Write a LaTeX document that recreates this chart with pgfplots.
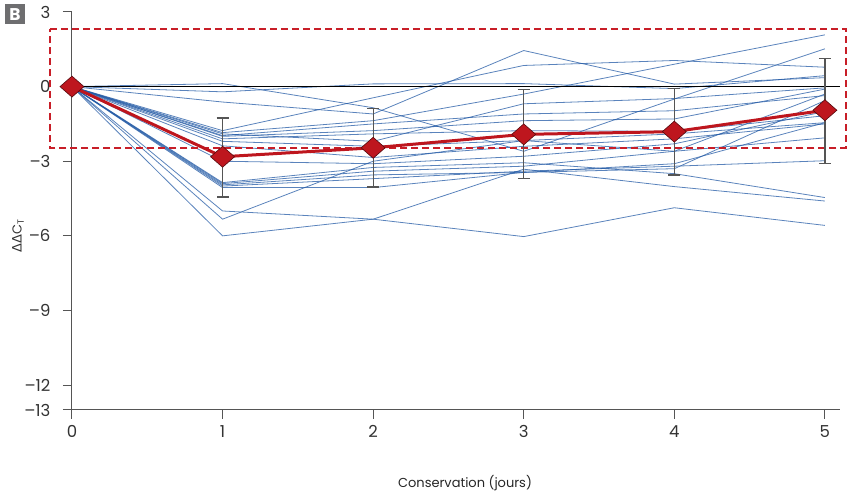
\documentclass[border=0pt]{standalone}
\usepackage{fontspec}
\setmainfont{Poppins}
\newfontfamily\gfont{DejaVu Sans}
\usepackage{pgfplots}
\usepackage{pgfplotstable}
\pgfplotsset{compat=1.18}
\definecolor{lineblue}{RGB}{35,90,165}
\definecolor{meanred}{RGB}{190,22,30}
\definecolor{boxred}{RGB}{200,30,40}
\definecolor{axgray}{RGB}{85,85,85}
\definecolor{bgray}{RGB}{110,110,112}

\pgfplotstableread{
d s1 s2 s3 s4 s5 s6 s7 s8 s9 s10 s11 s12 s13 s14 s15 s16 s17 s18 s19 s20
0 0 0 0 0 0 0 0 0 0 0 0 0 0 0 0 0 0 0 0 0
1 0.12 -0.21 -0.62 -1.77 -1.85 -1.90 -1.97 -2.00 -2.10 -2.20 -2.38 -3.00 -3.86 -3.90 -3.95 -4.00 -4.06 -5.00 -5.33 -6.00
2 -0.85 0.11 -1.10 -0.45 -1.37 -2.20 -1.50 -1.77 -1.90 -2.40 -2.85 -3.10 -3.25 -3.40 -3.55 -3.70 -4.06 -5.33 -3.00 -5.33
3 -2.60 0.12 1.45 0.85 -0.30 -0.69 -1.10 -1.37 -1.77 -2.17 -2.40 -2.80 -3.06 -3.20 -3.45 -3.40 -3.45 -6.03 -2.17 -3.32
4 -0.50 -0.08 0.10 1.05 0.90 -0.48 -0.97 -1.30 -1.80 -1.90 -2.10 -2.30 -3.50 -2.60 -3.10 -3.20 -3.30 -4.87 -2.60 -4.02
5 1.52 0.44 0.36 0.78 2.08 -0.05 -0.36 -0.10 -1.17 -1.45 -1.50 -1.00 -4.46 -2.06 -1.45 -2.98 -0.56 -5.58 -0.30 -4.60
}\lines

\begin{document}
\begin{tikzpicture}
\begin{axis}[
  scale only axis, width=768pt, height=398pt,
  xmin=0, xmax=5.1, ymin=-13, ymax=3,
  axis lines=left,
  axis line style={-, draw=axgray, line width=1pt},
  xtick={0,1,2,3,4,5}, xticklabels={0,1,2,3,4,5},
  ytick={-13,-12,-9,-6,-3,0,3}, yticklabels={--13,--12,--9,--6,--3,0,3},
  tick align=outside, major tick length=9pt,
  tick style={draw=axgray, line width=1pt},
  tick label style={font=\fontsize{16.5}{16.5}\selectfont, text=black!80},
  yticklabel style={xshift=-9pt},
  xticklabel style={yshift=-3pt},
  clip=false,
]
\coordinate (bbA) at (axis cs:-0.478,3.482);
\coordinate (bbB) at (axis cs:5.160,-16.377);

\pgfplotsinvokeforeach{1,...,20}{
  \addplot[lineblue, line width=0.8pt, opacity=0.75, mark=none, forget plot] table[x=d, y=s#1] {\lines};
}

\addplot[black, line width=0.8pt, mark=none, forget plot] coordinates {(0,0) (5.1,0)};

\addplot[boxred, line width=1.8pt, dash pattern=on 7pt off 4pt, mark=none, forget plot]
  coordinates {(-0.146,2.3) (5.14,2.3) (5.14,-2.46) (-0.146,-2.46) (-0.146,2.3)};

\addplot[draw=none, mark=none, forget plot,
  error bars/.cd, y dir=both, y explicit,
  error bar style={draw=axgray, line width=1.2pt},
  error mark options={draw=axgray, line width=1.2pt, rotate=90, mark size=6pt}]
  coordinates {
  (1,-2.82) += (0,1.56) -= (0,1.62)
  (2,-2.46) += (0,1.59) -= (0,1.58)
  (3,-1.92) += (0,1.80) -= (0,1.76)
  (4,-1.81) += (0,1.72) -= (0,1.74)
  (5,-0.95) += (0,2.08) -= (0,2.13)
  };

\addplot[meanred, line width=3pt, mark=diamond*, mark size=10.5pt,
  mark options={solid, fill=meanred, draw=black!55!meanred, line width=0.6pt, xscale=1.52}]
  coordinates {(0,0) (1,-2.82) (2,-2.46) (3,-1.92) (4,-1.81) (5,-0.95)};

\node[fill=bgray, text=white, minimum width=20pt, minimum height=20pt, inner sep=0pt,
  font=\bfseries\fontsize{17}{17}\selectfont] at (axis cs:-0.3785,2.9) {B};
\node[rotate=90, font=\fontsize{13}{13}\selectfont, text=black!80] at (axis cs:-0.3586,-6.0)
  {{\gfont ΔΔ}C\textsubscript{T}};
\node[anchor=base, font=\fontsize{13}{13}\selectfont, text=black!85] at (axis cs:2.61,-16.136)
  {Conservation (jours)};
\end{axis}
\pgfresetboundingbox
\path (bbA) rectangle (bbB);
\end{tikzpicture}
\end{document}
